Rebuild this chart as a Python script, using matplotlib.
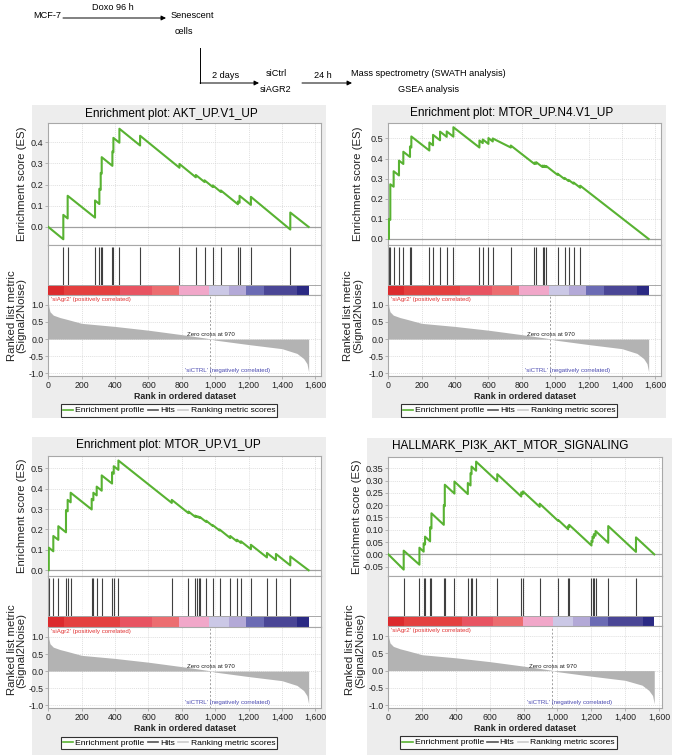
import matplotlib
matplotlib.use('Agg')
import matplotlib.pyplot as plt
from matplotlib.lines import Line2D
from matplotlib.patches import Rectangle
from matplotlib import font_manager

# ---------------- data ----------------
X_TICKS = [0, 200, 400, 600, 800, 1000, 1200, 1400, 1600]
RANK_TICKS = [-1.0, -0.5, 0.0, 0.5, 1.0]
ZERO_CROSS = 970

# ranked list metric (Signal2Noise)
METRIC_RANK = [0, 3, 10, 30, 70, 110, 200, 400, 600, 800, 900, 969, 970, 1000,
               1200, 1400, 1490, 1530, 1550, 1560]
METRIC_VAL = [1.1, 0.95, 0.8, 0.7, 0.63, 0.58, 0.46, 0.37, 0.26, 0.13, 0.06, 0.01,
              0.0, -0.03, -0.16, -0.28, -0.42, -0.57, -0.72, -0.96]
HALL_METRIC_RANK = [0, 3, 10, 30, 70, 110, 200, 400, 600, 800, 900, 969, 970, 1000,
                    1200, 1400, 1500, 1540, 1562, 1572]

# colour bar segments (rank boundaries and colours)
CBAR_EDGES = [0, 94, 430, 622, 782, 962, 1083, 1186, 1292, 1492, 1560]
HALL_CBAR_EDGES = [0, 95, 437, 619, 794, 975, 1093, 1195, 1300, 1508, 1572]
CBAR_COLORS = ['#dc2a2d', '#e4403f', '#e85462', '#ec6d70', '#f1a7c9',
               '#cbc8e6', '#b3a9d7', '#6b6bb4', '#4a4696', '#2b2a84']

# Panel 1: AKT_UP.V1_UP
AKT_HITS = [90, 116, 280, 306, 314, 320, 384, 390, 426, 550, 786, 884, 936, 986,
            1034, 1136, 1146, 1214, 1450]
AKT_ES_RANK = [0, 90, 90, 116, 116, 280, 280, 306, 306, 314, 314, 320, 320, 384, 384,
               390, 390, 426, 426, 550, 550, 786, 786, 884, 884, 936, 936, 986, 986,
               1034, 1034, 1136, 1136, 1146, 1146, 1214, 1214, 1450, 1450, 1560]
AKT_ES = [0.0, -0.058, 0.057, 0.040, 0.147, 0.044, 0.125, 0.108, 0.180, 0.175, 0.255,
          0.251, 0.329, 0.288, 0.356, 0.352, 0.420, 0.397, 0.463, 0.384, 0.430, 0.279,
          0.297, 0.234, 0.245, 0.212, 0.220, 0.188, 0.196, 0.165, 0.172, 0.107, 0.120,
          0.114, 0.147, 0.104, 0.142, -0.012, 0.068, 0.0]

# Panel 2: MTOR_UP.N4.V1_UP
N4_HITS = [4, 12, 32, 64, 90, 130, 138, 246, 268, 310, 350, 390, 546, 566, 600, 626,
           734, 876, 886, 924, 934, 946, 1014, 1056, 1080, 1110, 1150]
N4_ES_RANK = [0, 4, 4, 12, 12, 32, 32, 64, 64, 90, 90, 130, 130, 138, 138, 246, 246,
              268, 268, 310, 310, 350, 350, 390, 390, 546, 546, 566, 566, 600, 600,
              626, 626, 734, 734, 876, 876, 886, 886, 924, 924, 934, 934, 946, 946,
              1014, 1014, 1056, 1056, 1080, 1080, 1110, 1110, 1150, 1150, 1560]
N4_ES = [0.0, 0.0, 0.100, 0.095, 0.272, 0.260, 0.337, 0.316, 0.390, 0.373, 0.434,
         0.408, 0.460, 0.455, 0.510, 0.440, 0.480, 0.466, 0.518, 0.491, 0.534, 0.508,
         0.535, 0.509, 0.556, 0.455, 0.490, 0.477, 0.495, 0.473, 0.502, 0.485, 0.500,
         0.455, 0.465, 0.373, 0.380, 0.374, 0.382, 0.358, 0.365, 0.358, 0.365, 0.357,
         0.363, 0.319, 0.325, 0.298, 0.304, 0.288, 0.294, 0.275, 0.281, 0.255, 0.265,
         0.0]

# Panel 3: MTOR_UP.V1_UP
V1_HITS = [3, 30, 60, 106, 116, 134, 260, 270, 290, 320, 382, 392, 420, 740, 840,
           880, 890, 900, 910, 946, 984, 1026, 1090, 1130, 1154, 1214, 1310, 1364, 1450]
V1_ES_RANK = [0, 3, 3, 30, 30, 60, 60, 106, 106, 116, 116, 134, 134, 260, 260, 270,
              270, 290, 290, 320, 320, 382, 382, 392, 392, 420, 420, 740, 740, 840, 840,
              880, 880, 890, 890, 900, 900, 910, 910, 946, 946, 984, 984, 1026, 1026,
              1090, 1090, 1130, 1130, 1154, 1154, 1214, 1214, 1310, 1310, 1364, 1364,
              1450, 1450, 1560]
V1_ES = [0.0, 0.0, 0.111, 0.093, 0.168, 0.149, 0.216, 0.186, 0.295, 0.289, 0.345,
         0.333, 0.380, 0.298, 0.350, 0.343, 0.380, 0.367, 0.410, 0.390, 0.465, 0.425,
         0.480, 0.473, 0.510, 0.492, 0.538, 0.330, 0.345, 0.280, 0.288, 0.262, 0.268,
         0.261, 0.265, 0.259, 0.263, 0.256, 0.260, 0.237, 0.243, 0.218, 0.222, 0.195,
         0.200, 0.158, 0.168, 0.142, 0.150, 0.134, 0.142, 0.103, 0.125, 0.063, 0.085,
         0.050, 0.080, 0.024, 0.068, 0.0]

# Panel 4: HALLMARK_PI3K_AKT_MTOR_SIGNALING
HALL_HITS = [91, 184, 209, 217, 247, 255, 328, 334, 391, 470, 486, 492, 519, 644, 786,
             796, 895, 1004, 1063, 1069, 1201, 1207, 1215, 1225, 1300, 1464]
HALL_ES_RANK = [0, 91, 91, 184, 184, 209, 209, 217, 217, 247, 247, 255, 255, 328, 328,
                334, 334, 391, 391, 470, 470, 486, 486, 492, 492, 519, 519, 644, 644,
                786, 786, 796, 796, 895, 895, 1004, 1004, 1063, 1063, 1069, 1069, 1201,
                1201, 1207, 1207, 1215, 1215, 1225, 1225, 1300, 1300, 1464, 1464, 1572]
HALL_ES = [0.0, -0.062, 0.015, -0.042, 0.027, 0.011, 0.045, 0.040, 0.072, 0.053, 0.110,
           0.105, 0.167, 0.120, 0.200, 0.196, 0.283, 0.247, 0.296, 0.245, 0.290, 0.280,
           0.330, 0.326, 0.357, 0.340, 0.377, 0.297, 0.326, 0.235, 0.252, 0.246, 0.256,
           0.193, 0.206, 0.136, 0.140, 0.102, 0.115, 0.111, 0.120, 0.036, 0.055, 0.051,
           0.072, 0.067, 0.082, 0.076, 0.095, 0.047, 0.115, 0.010, 0.069, 0.0]

# ---------------- figure ----------------
W, H = 677, 755
names = {f.name for f in font_manager.fontManager.ttflist}
BASE = 'Liberation Sans' if 'Liberation Sans' in names else 'DejaVu Sans'
NARROW = 'Liberation Sans Narrow' if 'Liberation Sans Narrow' in names else None
plt.rcParams['font.family'] = [BASE, 'DejaVu Sans']
plt.rcParams['axes.unicode_minus'] = False

fig = plt.figure(figsize=(W / 100, H / 100), dpi=100)
fig.patch.set_facecolor('white')

GREEN = '#58b232'
GRID = '#d4d4d4'
SPINE = '#a8a8a8'
BG = '#ededed'


def ax_px(x0, y0, x1, y1, **kw):
    return fig.add_axes([x0 / W, 1 - y1 / H, (x1 - x0) / W, (y1 - y0) / H], **kw)


# background / schematic axes
bg = ax_px(0, 0, W, H)
bg.set_zorder(-5)
bg.set_xlim(0, W)
bg.set_ylim(H, 0)
bg.axis('off')

for (x0, y0, x1, y1) in [(32, 105, 326, 418), (372, 105, 666, 418),
                         (32, 437, 326, 755), (367, 438, 672, 755)]:
    bg.add_patch(Rectangle((x0, y0), x1 - x0, y1 - y0, color=BG, lw=0))

if NARROW:
    sfont = dict(family=[NARROW, BASE], fontsize=7.6)
else:
    sfont = dict(family=[BASE], fontsize=6.6)

arrow = dict(arrowstyle='-|>', color='black', lw=0.7, mutation_scale=7,
             shrinkA=0, shrinkB=0)
bg.text(61.5, 16, 'MCF-7', ha='right', va='center', **sfont)
bg.annotate('', xy=(166, 18), xytext=(63, 18), arrowprops=arrow)
bg.text(113, 8, 'Doxo 96 h', ha='center', va='center', **sfont)
bg.text(171, 16, 'Senescent', ha='left', va='center', **sfont)
bg.text(175, 31, 'cells', ha='left', va='center', **sfont)
bg.plot([200, 200], [48, 83], color='black', lw=0.7)
bg.annotate('', xy=(259, 83), xytext=(200, 83), arrowprops=arrow)
bg.text(226, 76, '2 days', ha='center', va='center', **sfont)
bg.text(276, 73, 'siCtrl', ha='center', va='center', **sfont)
bg.text(276, 89, 'siAGR2', ha='center', va='center', **sfont)
bg.annotate('', xy=(352, 83), xytext=(302, 83), arrowprops=arrow)
bg.text(323, 76, '24 h', ha='center', va='center', **sfont)
bg.text(428, 73, 'Mass spectrometry (SWATH analysis)', ha='center', va='center', **sfont)
bg.text(428, 89, 'GSEA analysis', ha='center', va='center', **sfont)


def style_axes(ax):
    for s in ax.spines.values():
        s.set_color(SPINE)
        s.set_linewidth(0.8)
    ax.tick_params(length=2, width=0.6, color=SPINE, pad=1.5, labelcolor='#222222')


def panel(geo, title, title_xy, es_rank, es, es_ylim, es_ticks, es_fmt, hits,
          metric_rank, cbar_edges, xmax, legend_c, es_lab_x, rank_lab_xy):
    x0, x1, es_top, hits_top, cb_top, rank_top, rank_bot = geo

    # --- ES axes
    ax = ax_px(x0, es_top, x1, hits_top)
    style_axes(ax)
    ax.set_xlim(0, xmax)
    ax.set_ylim(*es_ylim)
    ax.set_xticks(X_TICKS)
    ax.set_yticks(es_ticks)
    ax.set_yticklabels([es_fmt % t for t in es_ticks], fontsize=6.6)
    ax.tick_params(axis='x', labelbottom=False, length=0)
    ax.grid(True, color=GRID, lw=0.5, ls=(0, (1.5, 1.5)))
    ax.set_axisbelow(True)
    ax.axhline(0, color='#a0a0a0', lw=0.9, zorder=1)
    ax.plot(es_rank, es, color=GREEN, lw=1.5, zorder=3)

    # --- hits + colour bar axes
    hx = ax_px(x0, hits_top, x1, rank_top)
    style_axes(hx)
    hx.set_xlim(0, xmax)
    hx.set_ylim(0, 1)
    hx.set_xticks(X_TICKS)
    hx.tick_params(labelbottom=False, labelleft=False, length=0)
    hx.set_yticks([])
    hx.grid(True, axis='x', color='#e6e6e6', lw=0.5, ls=(0, (1.5, 1.5)))
    cb = (rank_top - cb_top) / (rank_top - hits_top)
    hx.vlines(hits, cb, 0.96, color='#404040', lw=0.8)
    starts = cbar_edges[:-1]
    widths = [b - a for a, b in zip(cbar_edges[:-1], cbar_edges[1:])]
    hx.bar(starts, cb, width=widths, bottom=0, align='edge', color=CBAR_COLORS,
           lw=0, zorder=3)
    hx.axhline(cb, color=SPINE, lw=0.7, zorder=4)

    # --- ranked list metric axes
    rx = ax_px(x0, rank_top, x1, rank_bot)
    style_axes(rx)
    rx.set_xlim(0, xmax)
    rx.set_ylim(-1.08, 1.29)
    rx.set_xticks(X_TICKS)
    rx.set_xticklabels(['{:,}'.format(t) for t in X_TICKS], fontsize=6.3)
    rx.set_yticks(RANK_TICKS)
    rx.set_yticklabels(['%.1f' % t for t in RANK_TICKS], fontsize=6.3)
    rx.grid(True, color=GRID, lw=0.5, ls=(0, (1.5, 1.5)))
    rx.set_axisbelow(True)
    rx.fill_between(metric_rank, METRIC_VAL, 0, color='#b3b3b3', lw=0, zorder=2)
    rx.axvline(ZERO_CROSS, color='#a0a0a0', lw=0.7, ls=(0, (2, 2)), zorder=3)
    rx.text(830, 0.12, 'Zero cross at 970', fontsize=4.4, color='#222222',
            ha='left', va='center', zorder=4)
    rx.text(15, 1.17, "'siAgr2' (positively correlated)", fontsize=4.4,
            color='#e03232', ha='left', va='center')
    rx.text(820, -0.93, "'siCTRL' (negatively correlated)", fontsize=4.4,
            color='#4848b0', ha='left', va='center')
    rx.set_xlabel('Rank in ordered dataset', fontsize=6.4, fontweight='bold',
                  labelpad=1.5, color='#222222')

    # --- labels and title
    fig.text(title_xy[0] / W, 1 - title_xy[1] / H, title, fontsize=8.5,
             ha='center', va='center', color='#000000')
    fig.text(es_lab_x / W, 1 - ((es_top + hits_top) / 2) / H, 'Enrichment score (ES)',
             rotation=90, fontsize=8.2, ha='center', va='center', color='#222222')
    fig.text(rank_lab_xy[0] / W, 1 - rank_lab_xy[1] / H,
             'Ranked list metric\n(Signal2Noise)', rotation=90, fontsize=8.2,
             ha='center', va='center', linespacing=1.0, color='#222222')

    handles = [Line2D([], [], color=GREEN, lw=1.2),
               Line2D([], [], color='#555555', lw=1.2),
               Line2D([], [], color='#cccccc', lw=1.2)]
    leg = fig.legend(handles, ['Enrichment profile', 'Hits', 'Ranking metric scores'],
                     loc='center', bbox_to_anchor=(legend_c[0] / W, 1 - legend_c[1] / H),
                     ncol=3, fontsize=6.1, frameon=True, fancybox=False,
                     edgecolor='black', handlelength=1.2, handletextpad=0.25,
                     columnspacing=0.4, borderpad=0.25, borderaxespad=0)
    leg.get_frame().set_linewidth(0.8)


panel((48.3, 321, 123, 245, 284.5, 295, 376), 'Enrichment plot: AKT_UP.V1_UP',
      (171, 114), AKT_ES_RANK, AKT_ES, (-0.085, 0.49), [0.0, 0.1, 0.2, 0.3, 0.4], '%.1f',
      AKT_HITS, METRIC_RANK, CBAR_EDGES, 1634, (169, 410.5), 21.7, (16.7, 316))

panel((388.3, 661, 123, 245, 284.5, 295, 376), 'Enrichment plot: MTOR_UP.N4.V1_UP',
      (511.7, 113), N4_ES_RANK, N4_ES, (-0.03, 0.577),
      [0.0, 0.1, 0.2, 0.3, 0.4, 0.5], '%.1f',
      N4_HITS, METRIC_RANK, CBAR_EDGES, 1634, (509, 410.5), 358, (353, 316))

panel((48.3, 321, 456, 576, 616, 627, 708), 'Enrichment plot: MTOR_UP.V1_UP',
      (168.7, 445), V1_ES_RANK, V1_ES, (-0.028, 0.56),
      [0.0, 0.1, 0.2, 0.3, 0.4, 0.5], '%.1f',
      V1_HITS, METRIC_RANK, CBAR_EDGES, 1634, (169, 743), 21.7, (16.7, 650))

panel((388.3, 661.7, 456.7, 576, 616, 626, 708), 'HALLMARK_PI3K_AKT_MTOR_SIGNALING',
      (510, 445), HALL_ES_RANK, HALL_ES, (-0.088, 0.397),
      [-0.05, 0.0, 0.05, 0.10, 0.15, 0.20, 0.25, 0.30, 0.35], '%.2f',
      HALL_HITS, HALL_METRIC_RANK, HALL_CBAR_EDGES, 1616, (508.5, 742.5), 356.7, (355, 650))

fig.savefig('out.png', dpi=100, facecolor='white')
